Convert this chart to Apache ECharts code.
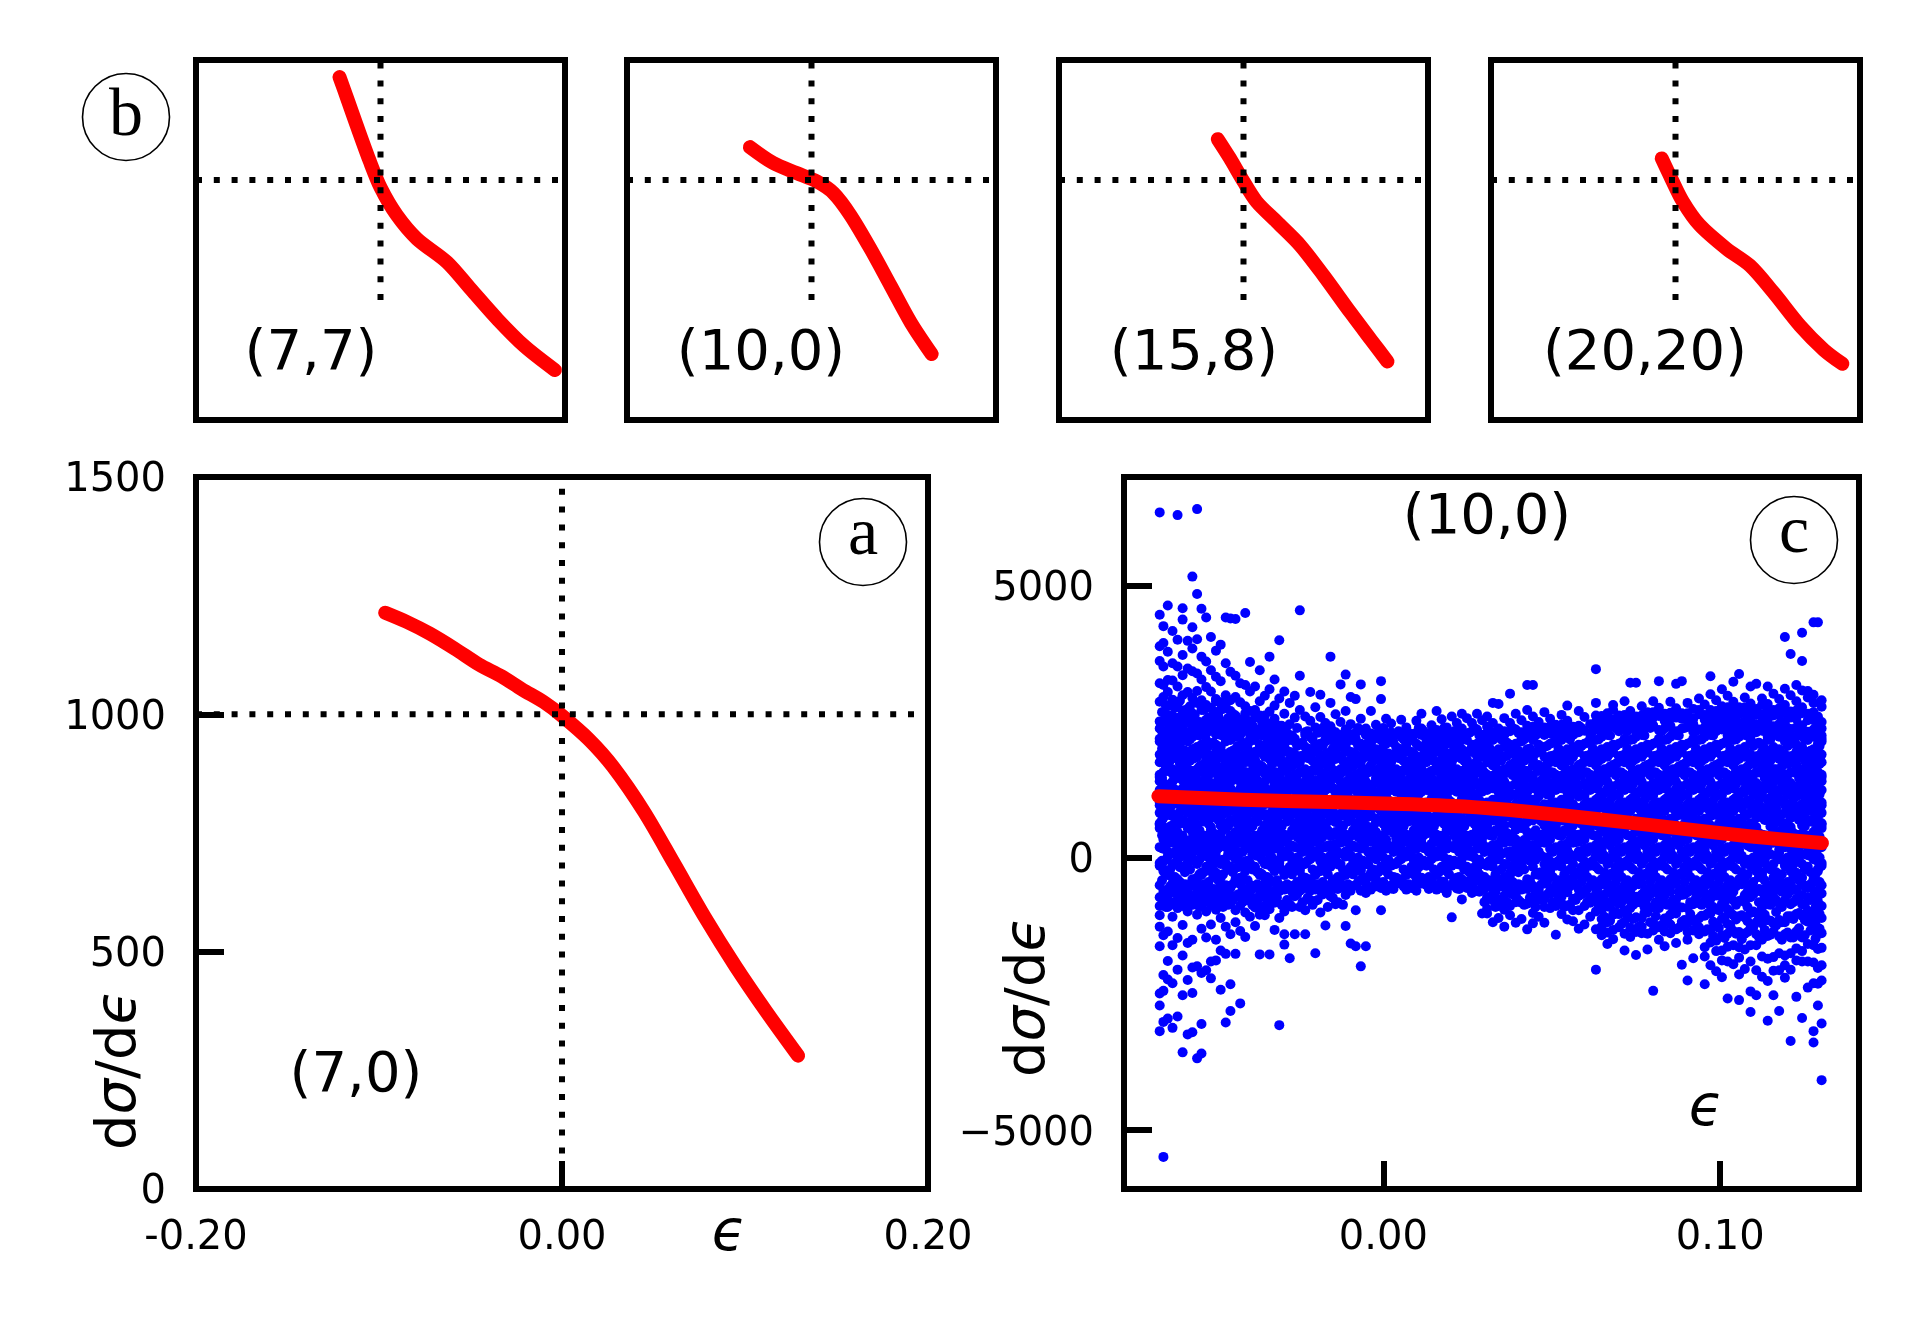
<!DOCTYPE html>
<html>
<head>
<meta charset="utf-8">
<title>dσ/dϵ</title>
<script src="https://cdn.jsdelivr.net/npm/echarts@6/dist/echarts.min.js"></script>
<style>
  html, body { margin: 0; padding: 0; background: #fff; }
  #chart { width: 1917px; height: 1323px; }
</style>
</head>
<body>
<div id="chart"></div>
<script>
// red curves: [ϵ, dσ/dϵ]
const curve7_0 = [[-0.0966, 1214], [-0.085, 1195], [-0.0722, 1170], [-0.0585, 1138], [-0.0454, 1105], [-0.033, 1080], [-0.022, 1053], [-0.010, 1026], [0.0, 997], [0.0147, 947], [0.028, 889], [0.0448, 795], [0.0615, 684], [0.078, 573], [0.095, 468], [0.1116, 374], [0.129, 281]]
const curve7_7 = [[-0.0444, 1429], [-0.0352, 1330], [-0.0262, 1232], [-0.0116, 1078], [0.0004, 966], [0.0176, 854], [0.0395, 755], [0.0723, 657], [0.0979, 545], [0.127, 419], [0.1562, 307], [0.189, 208]]
const curve10_0 = [[-0.0668, 1137], [-0.0417, 1071], [-0.0162, 1029], [0.0057, 994], [0.024, 945], [0.0421, 854], [0.064, 713], [0.0859, 559], [0.1078, 405], [0.1302, 275]]
const curve15_8 = [[-0.0279, 1170], [-0.0151, 1093], [0.0, 994], [0.0141, 910], [0.036, 826], [0.0614, 728], [0.087, 601], [0.1161, 447], [0.138, 335], [0.156, 244]]
const curve20_20 = [[-0.0149, 1090], [-0.0048, 1008], [0.008, 910], [0.0262, 812], [0.0554, 713], [0.0808, 643], [0.1063, 531], [0.1354, 391], [0.1609, 292], [0.1809, 234]]

// panel c scatter, one row per ϵ column: [ϵ, dσ/dϵ ...], dσ/dϵ stored in units of 10
const scatterUnit = 10
const scatterLeft = [
  [-0.0664, 219, 214, 190, 176, 153, 149, 141, 125, 102, 97, 83, 64, 61, 55, 20, -9, -14, -50, 287, 251, 238, -72, -88, 635, 447, 389, 362, 321, -105, -126, -162, -249, -271, -318],
  [-0.0653, 210, 187, 176, 158, 138, 135, 115, 99, 89, 74, 57, 52, 34, 17, -6, -20, -24, -60, 296, 268, 233, -67, -81, 426, 395, 352, 318, -142, -215, -244, -301, -549],
  [-0.0640, 208, 195, 171, 166, 160, 132, 118, 113, 92, 79, 43, 38, 30, 12, 3, -27, -31, -58, 279, 247, 229, -74, -90, 464, 379, 327, 305, -135, -189, -223, -295],
  [-0.0626, 226, 204, 186, 163, 155, 140, 127, 122, 99, 81, 77, 60, 45, 36, 28, -11, -36, -47, 291, 262, 241, -63, -85, 417, 358, 326, -108, -160, -230, -312],
  [-0.0611, 223, 200, 196, 182, 160, 147, 121, 109, 104, 72, 66, 48, 26, 15, 9, -2, -39, -45, 283, 255, 236, -69, -79, 630, 401, 352, 315, -92, -147, -205, -291],
  [-0.0596, 217, 195, 181, 170, 151, 143, 128, 107, 94, 86, 69, 41, 24, 21, 5, -16, -51, -55, 299, 271, 244, -66, -88, 459, 438, 373, 336, -123, -179, -252, -357],
  [-0.0581, 219, 214, 190, 176, 153, 149, 141, 125, 102, 97, 83, 64, 61, 55, 20, -9, -14, -50, 274, 258, 231, -77, -64, 399, 348, 305, -98, -156, -224, -324],
  [-0.0567, 223, 200, 196, 182, 160, 147, 121, 109, 104, 72, 66, 48, 26, 15, 9, -2, -39, -45, 294, 266, 238, -70, -86, 517, 424, 385, 343, -150, -201, -248, -320],
  [-0.0553, 226, 204, 186, 163, 155, 140, 127, 122, 99, 81, 77, 60, 45, 36, 28, -11, -36, -47, 285, 249, 232, -61, -83, 641, 485, 402, 339, 307, -104, -199, -368],
  [-0.0540, 208, 195, 171, 166, 160, 132, 118, 113, 92, 79, 43, 38, 30, 12, 3, -27, -31, -58, 290, 272, 240, -75, -89, 458, 370, 328, -130, -211, -305, -359],
  [-0.0526, 217, 195, 181, 170, 151, 143, 128, 107, 94, 86, 69, 41, 24, 21, 5, -16, -51, -55, 281, 254, 229, -68, -80, 442, 361, 314, -98, -146, -206],
  [-0.0512, 210, 187, 176, 158, 138, 135, 115, 99, 89, 74, 57, 52, 34, 17, -6, -20, -24, -60, 276, 245, 234, -73, -87, 406, 345, 306, -122, -190, -221],
  [-0.0497, 208, 195, 171, 166, 160, 132, 118, 113, 92, 79, 43, 38, 30, 12, 3, -27, -31, -58, 288, 260, 227, -65, -82, 381, 333, 292, -95, -150, -188],
  [-0.0483, 226, 204, 186, 163, 155, 140, 127, 122, 99, 81, 77, 60, 45, 36, 28, -11, -36, -47, 273, 252, 230, -71, -86, 392, 325, 286, -110, -170, -242],
  [-0.0468, 219, 214, 190, 176, 153, 149, 141, 125, 102, 97, 83, 64, 61, 55, 20, -9, -14, -50, 282, 248, 235, -62, -78, 442, 358, 299, -126, -176, -302],
  [-0.0454, 217, 195, 181, 170, 151, 143, 128, 107, 94, 86, 69, 41, 24, 21, 5, -16, -51, -55, 270, 256, 228, -69, -84, 440, 342, 290, -140, -232, -281],
  [-0.0439, 223, 200, 196, 182, 160, 147, 121, 109, 104, 72, 66, 48, 26, 15, 9, -2, -39, -45, 262, 237, -71, 439, 335, 296, -118, -176, -96],
  [-0.0425, 226, 204, 186, 163, 155, 140, 127, 122, 99, 81, 77, 60, 45, 36, 28, -11, -36, -47, 255, 231, -66, 321, 286, -134, -267, -87],
  [-0.0410, 210, 187, 176, 158, 138, 135, 115, 99, 89, 74, 57, 52, 34, 17, -6, -20, -24, -60, 266, 241, -78, 450, 318, 279, -100, -145],
  [-0.0396, 219, 214, 190, 176, 153, 149, 141, 125, 102, 97, 83, 64, 61, 55, 20, -9, -14, -50, 249, 228, -63, 360, 306, 270, -79, -108],
  [-0.0381, 217, 195, 181, 170, 151, 143, 128, 107, 94, 86, 69, 41, 24, 21, 5, -16, -51, -55, 258, 234, -74, 315, 272, -125, -91],
  [-0.0367, 208, 195, 171, 166, 160, 132, 118, 113, 92, 79, 43, 38, 30, 12, 3, -27, -31, -58, 262, 229, -69, 345, 288, -177, -104],
  [-0.0352, 226, 204, 186, 163, 155, 140, 127, 122, 99, 81, 77, 60, 45, 36, 28, -11, -36, -47, 251, 238, -72, 298, 262, -105, -88],
  [-0.0338, 223, 200, 196, 182, 160, 147, 121, 109, 104, 72, 66, 48, 26, 15, 9, -2, -39, -45, 247, 232, -65, 370, 310, 269, -94, -177],
  [-0.0323, 210, 187, 176, 158, 138, 135, 115, 99, 89, 74, 57, 52, 34, 17, -6, -20, -24, -60, 256, 227, -76, 328, 280, -132, -82],
  [-0.0309, 219, 214, 190, 176, 153, 149, 141, 125, 102, 97, 83, 64, 61, 55, 20, -9, -14, -50, 243, 230, -61, 400, 293, -110, -307]
]
const scatterLeftB = [
  [-0.0657, 233, 201, 184, 147, 129, 88, 70, 42, 18, -5, -41, -73, 268, 249],
  [-0.0646, 225, 192, 168, 131, 106, 80, 51, 23, -3, -30, -62, -90, 281, 255],
  [-0.0633, 218, 179, 161, 136, 111, 93, 58, 33, 7, -21, -52, -86, 262, 244],
  [-0.0619, 212, 188, 157, 126, 100, 76, 46, 11, -12, -35, -57, -81, 276, 251],
  [-0.0604, 239, 206, 173, 152, 117, 85, 63, 39, 1, -17, -44, -67, 289, 259],
  [-0.0589, 230, 197, 163, 143, 120, 91, 67, 29, 4, -26, -48, -77, 266, 247],
  [-0.0574, 218, 179, 161, 136, 111, 93, 58, 33, 7, -21, -52, -86, 279, 253],
  [-0.0560, 233, 201, 184, 147, 129, 88, 70, 42, 18, -5, -41, -73, 263, 245],
  [-0.0546, 225, 192, 168, 131, 106, 80, 51, 23, -3, -30, -62, -90, 285, 250],
  [-0.0533, 230, 197, 163, 143, 120, 91, 67, 29, 4, -26, -48, -77, 272, 246],
  [-0.0519, 239, 206, 173, 152, 117, 85, 63, 39, 1, -17, -44, -67, 258, 243],
  [-0.0505, 212, 188, 157, 126, 100, 76, 46, 11, -12, -35, -57, -81, 270, 252],
  [-0.0490, 233, 201, 184, 147, 129, 88, 70, 42, 18, -5, -41, -73, 261, 242],
  [-0.0476, 225, 192, 168, 131, 106, 80, 51, 23, -3, -30, -62, -90, 274, 248],
  [-0.0461, 218, 179, 161, 136, 111, 93, 58, 33, 7, -21, -52, -86, 257, 241],
  [-0.0447, 230, 197, 163, 143, 120, 91, 67, 29, 4, -26, -48, -77, 265, 246],
  [-0.0432, 239, 206, 173, 152, 117, 85, 63, 39, 1, -17, -44, -67, 248],
  [-0.0418, 212, 188, 157, 126, 100, 76, 46, 11, -12, -35, -57, -81, 239],
  [-0.0403, 233, 201, 184, 147, 129, 88, 70, 42, 18, -5, -41, -73, 252],
  [-0.0389, 218, 179, 161, 136, 111, 93, 58, 33, 7, -21, -52, -86, 244],
  [-0.0374, 230, 197, 163, 143, 120, 91, 67, 29, 4, -26, -48, -77, 236],
  [-0.0360, 225, 192, 168, 131, 106, 80, 51, 23, -3, -30, -62, -90, 249],
  [-0.0345, 212, 188, 157, 126, 100, 76, 46, 11, -12, -35, -57, -81, 241],
  [-0.0331, 239, 206, 173, 152, 117, 85, 63, 39, 1, -17, -44, -67, 246],
  [-0.0316, 233, 201, 184, 147, 129, 88, 70, 42, 18, -5, -41, -73, 238],
  [-0.0302, 218, 179, 161, 136, 111, 93, 58, 33, 7, -21, -52, -86, 243]
]
const scatterMid = [
  [-0.0294, 208, 195, 171, 166, 160, 132, 118, 113, 92, 79, 43, 38, 30, 12, 3, -27, -31, -58, 306, 265, 234, -98, -140, -159],
  [-0.0278, 217, 195, 181, 170, 151, 143, 128, 107, 94, 86, 69, 41, 24, 21, 5, -16, -51, -55, 285, 246, -85, -184],
  [-0.0263, 219, 214, 190, 176, 153, 149, 141, 125, 102, 97, 83, 64, 61, 55, 20, -9, -14, -50, 298, 258, -140, -70],
  [-0.0248, 210, 187, 176, 158, 138, 135, 115, 99, 89, 74, 57, 52, 34, 17, -6, -20, -24, -60, 455, 335, 272, -90],
  [-0.0232, 226, 204, 186, 163, 155, 140, 127, 122, 99, 81, 77, 60, 45, 36, 28, -11, -36, -47, 260, 231, -140, -96],
  [-0.0217, 223, 200, 196, 182, 160, 147, 121, 109, 104, 72, 66, 48, 26, 15, 9, -2, -39, -45, 305, 252, -60, -77],
  [-0.0202, 208, 195, 171, 166, 160, 132, 118, 113, 92, 79, 43, 38, 30, 12, 3, -27, -31, -58, 277, 240, -79, -175],
  [-0.0187, 210, 187, 176, 158, 138, 135, 115, 99, 89, 74, 57, 52, 34, 17, -6, -20, -24, -60, 300, 259, -100],
  [-0.0172, 219, 214, 190, 176, 153, 149, 141, 125, 102, 97, 83, 64, 61, 55, 20, -9, -14, -50, 248, 229, -124, -62],
  [-0.0157, 217, 195, 181, 170, 151, 143, 128, 107, 94, 86, 69, 41, 24, 21, 5, -16, -51, -55, 370, 285, 242, -70],
  [-0.0142, 223, 200, 196, 182, 160, 147, 121, 109, 104, 72, 66, 48, 26, 15, 9, -2, -39, -45, 264, 231, -85, -56],
  [-0.0127, 226, 204, 186, 163, 155, 140, 127, 122, 99, 81, 77, 60, 45, 36, 28, -11, -36, -47, 319, 250, -54],
  [-0.0112, 208, 195, 171, 166, 160, 132, 118, 113, 92, 79, 43, 38, 30, 12, 3, -27, -31, -58, 337, 270, 236, -68, -125],
  [-0.0097, 217, 195, 181, 170, 151, 143, 128, 107, 94, 86, 69, 41, 24, 21, 5, -16, -51, -55, 296, 246, -60, -157],
  [-0.0082, 219, 214, 190, 176, 153, 149, 141, 125, 102, 97, 83, 64, 61, 55, 20, -9, -14, -50, 292, 230, -96, -162],
  [-0.0067, 210, 187, 176, 158, 138, 135, 115, 99, 89, 74, 57, 52, 34, 17, -6, -20, -24, -60, 319, 256, -40, -199],
  [-0.0052, 226, 204, 186, 163, 155, 140, 127, 122, 99, 81, 77, 60, 45, 36, 28, -11, -36, -47, 238, 231, -64, -162],
  [-0.0037, 208, 195, 171, 166, 160, 132, 118, 113, 92, 79, 43, 38, 30, 12, 3, -27, -31, -58, 270, 229],
  [-0.0022, 223, 200, 196, 182, 160, 147, 121, 109, 104, 72, 66, 48, 26, 15, 9, -2, -39, -45, 245, 228, -52],
  [-0.0007, 217, 195, 181, 170, 151, 143, 128, 107, 94, 86, 69, 41, 24, 21, 5, -16, -51, -55, 325, 292, 233, -96],
  [0.0008, 210, 187, 176, 158, 138, 135, 115, 99, 89, 74, 57, 52, 34, 17, -6, -20, -24, -60, 256, 227],
  [0.0023, 219, 214, 190, 176, 153, 149, 141, 125, 102, 97, 83, 64, 61, 55, 20, -9, -14, -50, 247, 231, -56],
  [0.0038, 226, 204, 186, 163, 155, 140, 127, 122, 99, 81, 77, 60, 45, 36, 28, -11, -36, -47, 229],
  [0.0053, 223, 200, 196, 182, 160, 147, 121, 109, 104, 72, 66, 48, 26, 15, 9, -2, -39, -45, 254, 226],
  [0.0068, 208, 195, 171, 166, 160, 132, 118, 113, 92, 79, 43, 38, 30, 12, 3, -27, -31, -58, 240, 226, -53],
  [0.0083, 217, 195, 181, 170, 151, 143, 128, 107, 94, 86, 69, 41, 24, 21, 5, -16, -51, -55, 228],
  [0.0098, 210, 187, 176, 158, 138, 135, 115, 99, 89, 74, 57, 52, 34, 17, -6, -20, -24, -60, 252, 230, -42],
  [0.0113, 226, 204, 186, 163, 155, 140, 127, 122, 99, 81, 77, 60, 45, 36, 28, -11, -36, -47, 265, 238],
  [0.0128, 219, 214, 190, 176, 153, 149, 141, 125, 102, 97, 83, 64, 61, 55, 20, -9, -14, -50, 229],
  [0.0143, 223, 200, 196, 182, 160, 147, 121, 109, 104, 72, 66, 48, 26, 15, 9, -2, -39, -45, 244, 230, -52],
  [0.0158, 208, 195, 171, 166, 160, 132, 118, 113, 92, 79, 43, 38, 30, 12, 3, -27, -31, -58, 270, 235],
  [0.0173, 217, 195, 181, 170, 151, 143, 128, 107, 94, 86, 69, 41, 24, 21, 5, -16, -51, -55, 255, 228, -43],
  [0.0188, 210, 187, 176, 158, 138, 135, 115, 99, 89, 74, 57, 52, 34, 17, -6, -20, -24, -60, 240, 229, -64],
  [0.0203, 219, 214, 190, 176, 153, 149, 141, 125, 102, 97, 83, 64, 61, 55, 20, -9, -14, -50, 260, 229, -109],
  [0.0218, 226, 204, 186, 163, 155, 140, 127, 122, 99, 81, 77, 60, 45, 36, 28, -11, -36, -47, 248, 232, -56],
  [0.0233, 223, 200, 196, 182, 160, 147, 121, 109, 104, 72, 66, 48, 26, 15, 9, -2, -39, -45, 265, 238, -76],
  [0.0248, 217, 195, 181, 170, 151, 143, 128, 107, 94, 86, 69, 41, 24, 21, 5, -16, -51, -55, 257, 228, -43],
  [0.0263, 208, 195, 171, 166, 160, 132, 118, 113, 92, 79, 43, 38, 30, 12, 3, -27, -31, -58, 248, 233, -64],
  [0.0278, 210, 187, 176, 158, 138, 135, 115, 99, 89, 74, 57, 52, 34, 17, -6, -20, -24, -60, 265, 236, -60],
  [0.0293, 226, 204, 186, 163, 155, 140, 127, 122, 99, 81, 77, 60, 45, 36, 28, -11, -36, -47, 253, 226, -58, -102]
]
const scatterMidB = [
  [-0.0286, 230, 197, 163, 143, 120, 91, 67, 29, 4, -26, -48, -77],
  [-0.0271, 225, 192, 168, 131, 106, 80, 51, 23, -3, -30, -62, -90],
  [-0.0256, 239, 206, 173, 152, 117, 85, 63, 39, 1, -17, -44, -67],
  [-0.0240, 212, 188, 157, 126, 100, 76, 46, 11, -12, -35, -57, -81],
  [-0.0225, 233, 201, 184, 147, 129, 88, 70, 42, 18, -5, -41, -73],
  [-0.0210, 218, 179, 161, 136, 111, 93, 58, 33, 7, -21, -52, -86],
  [-0.0195, 230, 197, 163, 143, 120, 91, 67, 29, 4, -26, -48, -77],
  [-0.0180, 239, 206, 173, 152, 117, 85, 63, 39, 1, -17, -44, -67],
  [-0.0165, 225, 192, 168, 131, 106, 80, 51, 23, -3, -30, -62, -90],
  [-0.0150, 233, 201, 184, 147, 129, 88, 70, 42, 18, -5, -41, -73],
  [-0.0135, 212, 188, 157, 126, 100, 76, 46, 11, -12, -35, -57, -81],
  [-0.0120, 218, 179, 161, 136, 111, 93, 58, 33, 7, -21, -52, -86],
  [-0.0105, 230, 197, 163, 143, 120, 91, 67, 29, 4, -26, -48],
  [-0.0090, 225, 192, 168, 131, 106, 80, 51, 23, -3, -30],
  [-0.0075, 239, 206, 173, 152, 117, 85, 63, 39, 1, -17, -44],
  [-0.0060, 233, 201, 184, 147, 129, 88, 70, 42, 18, -5, -41],
  [-0.0045, 212, 188, 157, 126, 100, 76, 46, 11, -12, -35, -57],
  [-0.0030, 218, 179, 161, 136, 111, 93, 58, 33, 7, -21, -52],
  [-0.0015, 230, 197, 163, 143, 120, 91, 67, 29, 4, -26, -48],
  [0.0000, 239, 206, 173, 152, 117, 85, 63, 39, 1, -17, -44],
  [0.0015, 225, 192, 168, 131, 106, 80, 51, 23, -3, -30],
  [0.0030, 212, 188, 157, 126, 100, 76, 46, 11, -12, -35, -57],
  [0.0045, 233, 201, 184, 147, 129, 88, 70, 42, 18, -5, -41],
  [0.0060, 218, 179, 161, 136, 111, 93, 58, 33, 7, -21, -52],
  [0.0075, 230, 197, 163, 143, 120, 91, 67, 29, 4, -26, -48],
  [0.0090, 225, 192, 168, 131, 106, 80, 51, 23, -3, -30],
  [0.0105, 239, 206, 173, 152, 117, 85, 63, 39, 1, -17, -44],
  [0.0120, 233, 201, 184, 147, 129, 88, 70, 42, 18, -5, -41],
  [0.0135, 212, 188, 157, 126, 100, 76, 46, 11, -12, -35, -57],
  [0.0150, 218, 179, 161, 136, 111, 93, 58, 33, 7, -21, -52],
  [0.0165, 230, 197, 163, 143, 120, 91, 67, 29, 4, -26, -48],
  [0.0180, 239, 206, 173, 152, 117, 85, 63, 39, 1, -17, -44],
  [0.0195, 225, 192, 168, 131, 106, 80, 51, 23, -3, -30],
  [0.0210, 233, 201, 184, 147, 129, 88, 70, 42, 18, -5, -41],
  [0.0225, 212, 188, 157, 126, 100, 76, 46, 11, -12, -35, -57],
  [0.0240, 218, 179, 161, 136, 111, 93, 58, 33, 7, -21, -52],
  [0.0255, 230, 197, 163, 143, 120, 91, 67, 29, 4, -26, -48],
  [0.0270, 239, 206, 173, 152, 117, 85, 63, 39, 1, -17, -44],
  [0.0285, 225, 192, 168, 131, 106, 80, 51, 23, -3, -30, -62],
  [0.0300, 212, 188, 157, 126, 100, 76, 46, 11, -12, -35, -57, -81]
]
const scatterRight = [
  [0.0308, 219, 214, 190, 176, 153, 149, 141, 125, 102, 97, 83, 64, 61, 55, 20, -9, -14, -50, -72, -93, 260, 229, 241, -102],
  [0.0325, 217, 195, 181, 170, 151, 143, 128, 107, 94, 86, 69, 41, 24, 21, 5, -16, -51, -55, -66, -78, 285, 248, 231, -118],
  [0.0342, 223, 200, 196, 182, 160, 147, 121, 109, 104, 72, 66, 48, 26, 15, 9, -2, -39, -45, -76, -88, 283, 238, -110],
  [0.0359, 226, 204, 186, 163, 155, 140, 127, 122, 99, 81, 77, 60, 45, 36, 28, -11, -36, -47, -69, -95, 257, 233, 228, -126],
  [0.0376, 208, 195, 171, 166, 160, 132, 118, 113, 92, 79, 43, 38, 30, 12, 3, -27, -31, -58, -64, -88, 302, 248, 233, -105],
  [0.0393, 210, 187, 176, 158, 138, 135, 115, 99, 89, 74, 57, 52, 34, 17, -6, -20, -24, -60, -68, -81, 265, 236, -119],
  [0.0410, 219, 214, 190, 176, 153, 149, 141, 125, 102, 97, 83, 64, 61, 55, 20, -9, -14, -50, -58, -82, 253, 231, 226, -112],
  [0.0427, 223, 200, 196, 182, 160, 147, 121, 109, 104, 72, 66, 48, 26, 15, 9, -2, -39, -45, -57, -84, 318, 272, 243, -131],
  [0.0444, 217, 195, 181, 170, 151, 143, 128, 107, 94, 86, 69, 41, 24, 21, 5, -16, -51, -55, -77, -101, 318, 260, 241, -120],
  [0.0461, 208, 195, 171, 166, 160, 132, 118, 113, 92, 79, 43, 38, 30, 12, 3, -27, -31, -58, -76, -62, 250, 239, -108],
  [0.0478, 226, 204, 186, 163, 155, 140, 127, 122, 99, 81, 77, 60, 45, 36, 28, -11, -36, -47, -75, -90, 268, 240, 228, -119],
  [0.0495, 210, 187, 176, 158, 138, 135, 115, 99, 89, 74, 57, 52, 34, 17, -6, -20, -24, -60, -66, -92, 256, 240, 229],
  [0.0512, 219, 214, 190, 176, 153, 149, 141, 125, 102, 97, 83, 64, 61, 55, 20, -9, -14, -50, -61, -88, 245, 230, -141],
  [0.0529, 217, 195, 181, 170, 151, 143, 128, 107, 94, 86, 69, 41, 24, 21, 5, -16, -51, -55, -83, -71, 263, 245, 235, -103],
  [0.0546, 223, 200, 196, 182, 160, 147, 121, 109, 104, 72, 66, 48, 26, 15, 9, -2, -39, -45, -63, -87, 280, 252, 238, -113],
  [0.0563, 226, 204, 186, 163, 155, 140, 127, 122, 99, 81, 77, 60, 45, 36, 28, -11, -36, -47, -75, -96, 241, 233, -116],
  [0.0580, 208, 195, 171, 166, 160, 132, 118, 113, 92, 79, 43, 38, 30, 12, 3, -27, -31, -58, -69, -96, 270, 243, 231, -130],
  [0.0597, 210, 187, 176, 158, 138, 135, 115, 99, 89, 74, 57, 52, 34, 17, -6, -20, -24, -60, -64, -88, 259, 234, -122],
  [0.0614, 219, 214, 190, 176, 153, 149, 141, 125, 102, 97, 83, 64, 61, 55, 20, -9, -14, -50, -82, -73, 246, 228, -108],
  [0.0631, 217, 195, 181, 170, 151, 143, 128, 107, 94, 86, 69, 41, 24, 21, 5, -16, -51, -55, -74, -98, -66, 238, 347, 285, 250, 262, -205, -131],
  [0.0648, 223, 200, 196, 182, 160, 147, 121, 109, 104, 72, 66, 48, 26, 15, 9, -2, -39, -45, -68, -95, -112, 229, 261, 250, 241, -142, -126],
  [0.0665, 226, 204, 186, 163, 155, 140, 127, 122, 99, 81, 77, 60, 45, 36, 28, -11, -36, -47, -63, -89, -118, 236, 251, 266, -137, -158],
  [0.0682, 208, 195, 171, 166, 160, 132, 118, 113, 92, 79, 43, 38, 30, 12, 3, -27, -31, -58, -80, -104, -71, 242, 272, 254, 281, -132, -149],
  [0.0699, 210, 187, 176, 158, 138, 135, 115, 99, 89, 74, 57, 52, 34, 17, -6, -20, -24, -60, -75, -103, -84, 233, 262, 245, 259, -127],
  [0.0716, 219, 214, 190, 176, 153, 149, 141, 125, 102, 97, 83, 64, 61, 55, 20, -9, -14, -50, -66, -96, -117, 237, 288, 263, 251, -170, -139],
  [0.0733, 217, 195, 181, 170, 151, 143, 128, 107, 94, 86, 69, 41, 24, 21, 5, -16, -51, -55, -64, -92, -79, 242, 322, 270, 255, -145, -128],
  [0.0750, 223, 200, 196, 182, 160, 147, 121, 109, 104, 72, 66, 48, 26, 15, 9, -2, -39, -45, -82, -109, -71, 233, 322, 260, 247, -178, -136],
  [0.0767, 226, 204, 186, 163, 155, 140, 127, 122, 99, 81, 77, 60, 45, 36, 28, -11, -36, -47, -82, -110, -67, 236, 279, 262, 250, -138, -126],
  [0.0784, 208, 195, 171, 166, 160, 132, 118, 113, 92, 79, 43, 38, 30, 12, 3, -27, -31, -58, -73, -100, -88, 241, 268, 253, -168, -139],
  [0.0801, 210, 187, 176, 158, 138, 135, 115, 99, 89, 74, 57, 52, 34, 17, -6, -20, -24, -60, -63, -91, -119, 244, 288, 268, 258, -244, -133],
  [0.0818, 219, 214, 190, 176, 153, 149, 141, 125, 102, 97, 83, 64, 61, 55, 20, -9, -14, -50, -66, -92, -78, 235, 325, 276, 261, -150, -127],
  [0.0835, 217, 195, 181, 170, 151, 143, 128, 107, 94, 86, 69, 41, 24, 21, 5, -16, -51, -55, -84, -111, -69, 238, 265, 252, -162, -135],
  [0.0852, 223, 200, 196, 182, 160, 147, 121, 109, 104, 72, 66, 48, 26, 15, 9, -2, -39, -45, -83, -62, -104, 243, 287, 267, 257, -138, -122],
  [0.0869, 226, 204, 186, 163, 155, 140, 127, 122, 99, 81, 77, 60, 45, 36, 28, -11, -36, -47, -76, -102, -90, 233, 320, 275, 258, -156, -131],
  [0.0886, 208, 195, 171, 166, 160, 132, 118, 113, 92, 79, 43, 38, 30, 12, 3, -27, -31, -58, -68, -91, -117, 238, 325, 266, 256, -196, -124],
  [0.0903, 210, 187, 176, 158, 138, 135, 115, 99, 89, 74, 57, 52, 34, 17, -6, -20, -24, -60, -63, -92, -120, 241, 285, 266, 256, -225, -150, -136],
  [0.0920, 219, 214, 190, 176, 153, 149, 141, 125, 102, 97, 83, 64, 61, 55, 20, -9, -14, -50, -85, -114, -59, 232, 274, 256, 246, -184, -133],
  [0.0937, 217, 195, 181, 170, 151, 143, 128, 107, 94, 86, 69, 41, 24, 21, 5, -16, -51, -55, -83, -111, -65, 236, 293, 272, 264, -140, -127],
  [0.0954, 223, 200, 196, 182, 160, 147, 121, 109, 104, 72, 66, 48, 26, 15, 9, -2, -39, -45, -78, -106, -135, -64, 240, 226, 282, 263, 254, -164, -232, -181],
  [0.0971, 226, 204, 186, 163, 155, 140, 127, 122, 99, 81, 77, 60, 45, 36, 28, -11, -36, -47, -75, -102, -132, -88, 244, 230, 334, 301, 272, 258, -155, -197],
  [0.0988, 208, 195, 171, 166, 160, 132, 118, 113, 92, 79, 43, 38, 30, 12, 3, -27, -31, -58, -69, -94, -124, -152, 248, 233, 290, 270, 262, -171, -208],
  [0.1005, 210, 187, 176, 158, 138, 135, 115, 99, 89, 74, 57, 52, 34, 17, -6, -20, -24, -60, -84, -112, -142, -70, 251, 236, 310, 279, 265, -170, -188, -219],
  [0.1022, 219, 214, 190, 176, 153, 149, 141, 125, 102, 97, 83, 64, 61, 55, 20, -9, -14, -50, -66, -94, -121, -139, 240, 225, 298, 277, 269, 254, -190, -258, -163],
  [0.1039, 217, 195, 181, 170, 151, 143, 128, 107, 94, 86, 69, 41, 24, 21, 5, -16, -51, -55, -78, -105, -134, -62, 244, 229, 324, 287, 273, 258, -195, -160],
  [0.1056, 223, 200, 196, 182, 160, 147, 121, 109, 104, 72, 66, 48, 26, 15, 9, -2, -39, -45, -79, -107, -136, -164, 248, 234, 338, 277, 264, -261, -183, -214],
  [0.1073, 226, 204, 186, 163, 155, 140, 127, 122, 99, 81, 77, 60, 45, 36, 28, -11, -36, -47, -81, -109, -139, -68, 251, 237, 295, 277, 266, -168, -204],
  [0.1090, 219, 214, 190, 176, 153, 149, 141, 125, 102, 97, 83, 64, 61, 55, 20, -9, -14, -50, -72, -101, -129, -160, 240, 225, 315, 284, 271, 255, -245, -283, -190],
  [0.1107, 210, 187, 176, 158, 138, 135, 115, 99, 89, 74, 57, 52, 34, 17, -6, -20, -24, -60, -61, -101, -118, -140, 245, 231, 320, 274, 263, -160, -206, -252],
  [0.1124, 208, 195, 171, 166, 160, 132, 118, 113, 92, 79, 43, 38, 30, 12, 3, -27, -31, -58, -63, -91, -120, -150, 250, 234, 293, 281, 264, -181, -218],
  [0.1141, 217, 195, 181, 170, 151, 143, 128, 107, 94, 86, 69, 41, 24, 21, 5, -16, -51, -55, -85, -114, -143, -70, 239, 223, 315, 283, 270, 254, -185, -299, -226],
  [0.1158, 226, 204, 186, 163, 155, 140, 127, 122, 99, 81, 77, 60, 45, 36, 28, -11, -36, -47, -62, -71, -120, -135, 242, 232, 302, 272, 262, -182, -252, -207],
  [0.1175, 223, 200, 196, 182, 160, 147, 121, 109, 104, 72, 66, 48, 26, 15, 9, -2, -39, -45, -84, -114, -144, -56, 246, 231, 292, 275, 262, -175, -206, -281],
  [0.1192, 219, 214, 190, 176, 153, 149, 141, 125, 102, 97, 83, 64, 61, 55, 20, -9, -14, -50, -60, -77, -118, -140, 250, 235, 406, 311, 281, 266, -179, -220, -197],
  [0.1209, 210, 187, 176, 158, 138, 135, 115, 99, 89, 74, 57, 52, 34, 17, -6, -20, -24, -60, -85, -107, -146, -48, 237, 225, 375, 299, 269, 258, -175, -205, -336],
  [0.1226, 208, 195, 171, 166, 160, 132, 118, 113, 92, 79, 43, 38, 30, 12, 3, -27, -31, -58, -75, -103, -135, -166, 240, 223, 318, 288, 271, 256, -188, -255],
  [0.1243, 226, 204, 186, 163, 155, 140, 127, 122, 99, 81, 77, 60, 45, 36, 28, -11, -36, -47, -85, -106, -146, -68, 244, 232, 414, 362, 308, 277, 266, -190, -294, -171],
  [0.1260, 217, 195, 181, 170, 151, 143, 128, 107, 94, 86, 69, 41, 24, 21, 5, -16, -51, -55, -97, -117, -158, -72, 232, 220, 307, 295, 265, 253, -190, -238],
  [0.1277, 223, 200, 196, 182, 160, 147, 121, 109, 104, 72, 66, 48, 26, 15, 9, -2, -39, -45, -69, -99, -129, -160, 236, 228, 433, 300, 285, 268, 253, -192, -230, -318, -339],
  [0.1290, 210, 187, 176, 158, 138, 135, 115, 99, 89, 74, 57, 52, 34, 17, -6, -20, -24, -60, -80, -103, -140, -167, 241, 228, 433, 260, -202, -231, -271],
  [0.1301, 219, 214, 190, 176, 153, 149, 141, 125, 102, 97, 83, 64, 61, 55, 20, -9, -14, -50, -88, -110, -138, -65, 238, 225, 290, 278, 250, -165, -197, -225, -304, -408]
]
const scatterRightB = [
  [0.0316, 233, 201, 184, 147, 129, 88, 70, 42, 18, -5, -41, -73],
  [0.0333, 225, 192, 168, 131, 106, 80, 51, 23, -3, -30, -62, -90],
  [0.0350, 218, 179, 161, 136, 111, 93, 58, 33, 7, -21, -52, -86],
  [0.0367, 212, 188, 157, 126, 100, 76, 46, 11, -12, -35, -57, -81],
  [0.0384, 239, 206, 173, 152, 117, 85, 63, 39, 1, -17, -44, -67],
  [0.0401, 230, 197, 163, 143, 120, 91, 67, 29, 4, -26, -48, -77],
  [0.0418, 218, 179, 161, 136, 111, 93, 58, 33, 7, -21, -52, -86],
  [0.0435, 233, 201, 184, 147, 129, 88, 70, 42, 18, -5, -41, -73],
  [0.0452, 225, 192, 168, 131, 106, 80, 51, 23, -3, -30, -62, -90],
  [0.0469, 230, 197, 163, 143, 120, 91, 67, 29, 4, -26, -48, -77],
  [0.0486, 239, 206, 173, 152, 117, 85, 63, 39, 1, -17, -44, -67],
  [0.0503, 212, 188, 157, 126, 100, 76, 46, 11, -12, -35, -57, -81],
  [0.0520, 233, 201, 184, 147, 129, 88, 70, 42, 18, -5, -41, -73],
  [0.0537, 225, 192, 168, 131, 106, 80, 51, 23, -3, -30, -62, -90],
  [0.0554, 218, 179, 161, 136, 111, 93, 58, 33, 7, -21, -52, -86],
  [0.0571, 230, 197, 163, 143, 120, 91, 67, 29, 4, -26, -48, -77],
  [0.0588, 239, 206, 173, 152, 117, 85, 63, 39, 1, -17, -44, -67],
  [0.0605, 212, 188, 157, 126, 100, 76, 46, 11, -12, -35, -57, -81],
  [0.0622, 233, 201, 184, 147, 129, 88, 70, 42, 18, -5, -41, -73],
  [0.0639, 218, 179, 161, 136, 111, 93, 58, 33, 7, -21, -52, -86],
  [0.0656, 230, 197, 163, 143, 120, 91, 67, 29, 4, -26, -48, -77, -108],
  [0.0673, 225, 192, 168, 131, 106, 80, 51, 23, -3, -30, -62, -90, -115],
  [0.0690, 239, 206, 173, 152, 117, 85, 63, 39, 1, -17, -44, -67, -99],
  [0.0707, 212, 188, 157, 126, 100, 76, 46, 11, -12, -35, -57, -81, -121],
  [0.0724, 233, 201, 184, 147, 129, 88, 70, 42, 18, -5, -41, -73, -104],
  [0.0741, 218, 179, 161, 136, 111, 93, 58, 33, 7, -21, -52, -86, -112],
  [0.0758, 230, 197, 163, 143, 120, 91, 67, 29, 4, -26, -48, -77, -126],
  [0.0775, 225, 192, 168, 131, 106, 80, 51, 23, -3, -30, -62, -90, -101],
  [0.0792, 239, 206, 173, 152, 117, 85, 63, 39, 1, -17, -44, -67, -118],
  [0.0809, 212, 188, 157, 126, 100, 76, 46, 11, -12, -35, -57, -81, -107],
  [0.0826, 233, 201, 184, 147, 129, 88, 70, 42, 18, -5, -41, -73, -123],
  [0.0843, 218, 179, 161, 136, 111, 93, 58, 33, 7, -21, -52, -86, -110],
  [0.0860, 230, 197, 163, 143, 120, 91, 67, 29, 4, -26, -48, -77, -97],
  [0.0877, 225, 192, 168, 131, 106, 80, 51, 23, -3, -30, -62, -90, -128],
  [0.0894, 239, 206, 173, 152, 117, 85, 63, 39, 1, -17, -44, -67, -114],
  [0.0911, 212, 188, 157, 126, 100, 76, 46, 11, -12, -35, -57, -81, -103],
  [0.0928, 233, 201, 184, 147, 129, 88, 70, 42, 18, -5, -41, -73, -119],
  [0.0945, 218, 179, 161, 136, 111, 93, 58, 33, 7, -21, -52, -86, -106],
  [0.0962, 230, 197, 163, 143, 120, 91, 67, 29, 4, -26, -48, -77, -102, -131],
  [0.0979, 225, 192, 168, 131, 106, 80, 51, 23, -3, -30, -62, -90, -117, -143],
  [0.0996, 239, 206, 173, 152, 117, 85, 63, 39, 1, -17, -44, -67, -96, -128],
  [0.1013, 212, 188, 157, 126, 100, 76, 46, 11, -12, -35, -57, -81, -109, -147],
  [0.1030, 233, 201, 184, 147, 129, 88, 70, 42, 18, -5, -41, -73, -100, -125],
  [0.1047, 218, 179, 161, 136, 111, 93, 58, 33, 7, -21, -52, -86, -113, -139],
  [0.1064, 230, 197, 163, 143, 120, 91, 67, 29, 4, -26, -48, -77, -105, -149],
  [0.1081, 225, 192, 168, 131, 106, 80, 51, 23, -3, -30, -62, -90, -116, -136],
  [0.1098, 239, 206, 173, 152, 117, 85, 63, 39, 1, -17, -44, -67, -98, -127],
  [0.1115, 212, 188, 157, 126, 100, 76, 46, 11, -12, -35, -57, -81, -111, -145],
  [0.1132, 233, 201, 184, 147, 129, 88, 70, 42, 18, -5, -41, -73, -104, -132],
  [0.1149, 218, 179, 161, 136, 111, 93, 58, 33, 7, -21, -52, -86, -115, -141],
  [0.1166, 230, 197, 163, 143, 120, 91, 67, 29, 4, -26, -48, -77, -99, -124],
  [0.1183, 225, 192, 168, 131, 106, 80, 51, 23, -3, -30, -62, -90, -118, -150],
  [0.1200, 239, 206, 173, 152, 117, 85, 63, 39, 1, -17, -44, -67, -107, -137],
  [0.1217, 212, 188, 157, 126, 100, 76, 46, 11, -12, -35, -57, -81, -112, -146],
  [0.1234, 233, 201, 184, 147, 129, 88, 70, 42, 18, -5, -41, -73, -101, -129],
  [0.1251, 218, 179, 161, 136, 111, 93, 58, 33, 7, -21, -52, -86, -114, -142],
  [0.1268, 230, 197, 163, 143, 120, 91, 67, 29, 4, -26, -48, -77, -108, -133],
  [0.1283, 225, 192, 168, 131, 106, 80, 51, 23, -3, -30, -62, -90, -119, -148],
  [0.1295, 239, 206, 173, 152, 117, 85, 63, 39, 1, -17, -44, -67, -103, -130]
]

const bLabels = ['(7,7)', '(10,0)', '(15,8)', '(20,20)']
const bCurves = [curve7_7, curve10_0, curve15_8, curve20_20]
const cTicksX = [0, 0.1]
const cTicksY = [-5000, 0, 5000]
// dotted guides: vertical at ϵ = 0, horizontal at dσ/dϵ = 1000
const guideA = { v: [[0, 0], [0, 1500]], h: [[-0.2, 1000], [0.2, 1000]] }
const guideB = { v: [[0, 500], [0, 1500]], h: [[-0.2, 1000], [0.2, 1000]] }

const scatterPoints = [scatterLeft, scatterLeftB, scatterMid, scatterMidB, scatterRight, scatterRightB]
  .flat()
  .flatMap(col => col.slice(1).map(v => [col[0], v * scatterUnit]))

const chart = echarts.init(document.getElementById('chart'), null, { renderer: 'canvas' })

const frame = { show: true, borderColor: '#000', borderWidth: 6, backgroundColor: '#fff' }
const tick = { show: true, inside: true, length: 28, lineStyle: { color: '#000', width: 6 } }
const label = { color: '#000', fontSize: 40, fontFamily: 'DejaVu Sans', margin: 30 }
const noLine = { show: false, onZero: false }
const font = '"DejaVu Sans"'

const bLeft = [196, 627, 1059, 1491]
const bCenters = [311, 761, 1194, 1645]

const grid = [
  { left: 196, top: 477, width: 732, height: 712, ...frame },
  { left: 1124, top: 477, width: 735, height: 712, ...frame },
  ...bLeft.map(l => ({ left: l, top: 60, width: 369, height: 360, ...frame }))
]

const xAxis = [
  {
    gridIndex: 0, type: 'value', min: -0.2, max: 0.2, interval: 0.2,
    axisLine: noLine, splitLine: { show: false }, axisTick: tick,
    axisLabel: { ...label, showMinLabel: true, showMaxLabel: true, formatter: v => v.toFixed(2) }
  },
  {
    gridIndex: 1, type: 'value', min: -0.077, max: 0.1412,
    axisLine: noLine, splitLine: { show: false },
    axisTick: { ...tick, customValues: cTicksX },
    axisLabel: { ...label, customValues: cTicksX, formatter: v => v.toFixed(2) }
  },
  ...bLeft.map((l, i) => ({ gridIndex: i + 2, type: 'value', min: -0.2, max: 0.2, show: false, axisLine: noLine }))
]

const yLabelText = v => '{n|' + (v < 0 ? '\u2212' + Math.abs(v) : String(v)) + '}'
const yRich = { n: { fontSize: 40, fontFamily: 'DejaVu Sans', color: '#000', padding: [8, 0, 0, 0] } }

const yAxis = [
  {
    gridIndex: 0, type: 'value', min: 0, max: 1500, interval: 500,
    axisLine: noLine, splitLine: { show: false }, axisTick: tick,
    axisLabel: { ...label, rich: yRich, showMinLabel: true, showMaxLabel: true, formatter: yLabelText }
  },
  {
    gridIndex: 1, type: 'value', min: -6080, max: 7000,
    axisLine: noLine, splitLine: { show: false },
    axisTick: { ...tick, customValues: cTicksY },
    axisLabel: { ...label, rich: yRich, customValues: cTicksY, formatter: yLabelText }
  },
  ...bLeft.map((l, i) => ({ gridIndex: i + 2, type: 'value', min: 0, max: 1500, show: false, axisLine: noLine }))
]

function redLine(idx, data) {
  return {
    type: 'line', xAxisIndex: idx, yAxisIndex: idx, data: data,
    smooth: 0.3, showSymbol: false, symbol: 'none', z: 3, silent: true,
    lineStyle: { color: '#ff0000', width: 14, cap: 'round', join: 'round' }
  }
}
function guide(idx, data) {
  return {
    type: 'line', xAxisIndex: idx, yAxisIndex: idx, data: data,
    showSymbol: false, symbol: 'none', z: 4, silent: true,
    lineStyle: { color: '#000', width: 6, type: [6, 11.8], cap: 'butt' }
  }
}

const series = [
  {
    type: 'scatter', xAxisIndex: 1, yAxisIndex: 1, data: scatterPoints,
    symbolSize: 10, itemStyle: { color: '#0000ff', opacity: 1 }, z: 2, silent: true,
    large: false, progressive: 0
  },
  redLine(0, curve7_0),
  guide(0, guideA.v),
  guide(0, guideA.h),
  redLine(1, curve10_0),
  ...bCurves.flatMap((c, i) => [redLine(i + 2, c), guide(i + 2, guideB.v), guide(i + 2, guideB.h)])
]

function txt(x, y, text, size, extra) {
  return {
    type: 'text', x: x, y: y, silent: true,
    style: Object.assign({ text: text, fill: '#000', font: size + 'px ' + font, textAlign: 'center', textVerticalAlign: 'middle', align: 'center', verticalAlign: 'middle' }, extra || {})
  }
}
function tag(cx, cy, letter, dy) {
  return [
    { type: 'circle', silent: true, shape: { cx: cx, cy: cy, r: 43.5 }, style: { fill: 'none', stroke: '#000', lineWidth: 1.6 } },
    txt(cx, cy + dy, letter, 68, { font: '68px "Liberation Serif"' })
  ]
}
const yName = (x, y) => ({
  type: 'text', x: x, y: y, rotation: Math.PI / 2, silent: true,
  style: {
    text: '{u|d}{i|σ}{u|/d}{i|ϵ}', fill: '#000', textAlign: 'center', textVerticalAlign: 'middle', align: 'center', verticalAlign: 'middle',
    rich: {
      u: { fontSize: 56, fontFamily: 'DejaVu Sans', fill: '#000', color: '#000' },
      i: { fontSize: 56, fontFamily: 'DejaVu Sans', fontStyle: 'italic', fill: '#000', color: '#000' }
    }
  }
})

const graphic = [
  ...tag(126, 117, 'b', 0),
  ...tag(863, 542, 'a', -6),
  ...tag(1794, 540, 'c', -6),
  txt(356, 1076, '(7,0)', 56),
  txt(1487, 518, '(10,0)', 56),
  ...bLabels.map((t, i) => txt(bCenters[i], 354, t, 56)),
  txt(729, 1235, 'ϵ', 56, { font: 'italic 56px ' + font }),
  txt(1706, 1110, 'ϵ', 56, { font: 'italic 56px ' + font }),
  yName(120, 1070),
  yName(1029, 997)
]

chart.setOption({
  backgroundColor: '#fff',
  animation: false,
  grid: grid,
  xAxis: xAxis,
  yAxis: yAxis,
  series: series,
  graphic: graphic
})
</script>
</body>
</html>
